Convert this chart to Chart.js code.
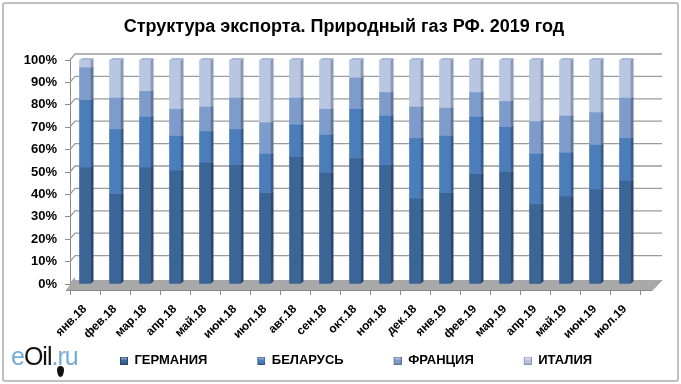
<!DOCTYPE html>
<html>
<head>
<meta charset="utf-8">
<script src="https://cdn.jsdelivr.net/npm/chart.js@4/dist/chart.umd.min.js"></script>
<style>
  html, body { margin: 0; padding: 0; background: #fff; }
  #wrap { position: relative; width: 681px; height: 384px; overflow: hidden; }
  #frame { position: absolute; left: 2px; top: 2px; width: 673px; height: 376px; border: 2px solid #c0c0c0; border-radius: 3px; pointer-events: none; }
  canvas { position: absolute; left: 0; top: 0; }
  #logo { position: absolute; left: 11px; top: 342px; font-family: 'Liberation Sans', sans-serif; font-size: 25px; letter-spacing: -1px; line-height: 28px; }
  #logo .b { color: #74acd9; }
  #logo .k { color: #111; }
  #drop { position: absolute; left: 57px; top: 366px; width: 7px; height: 11px; background: #111; border-radius: 50% 50% 50% 50% / 35% 35% 65% 65%; }
</style>
</head>
<body>
<div id="wrap">
  <canvas id="c" width="681" height="384"></canvas>
  <div id="frame"></div>
  <div id="logo"><span class="b">e</span><span class="k">Oil</span><span class="b">.ru</span></div>
  <div id="drop"></div>
</div>
<script>
const categories = ['янв.18','фев.18','мар.18','апр.18','май.18','июн.18','июл.18','авг.18','сен.18','окт.18','ноя.18','дек.18','янв.19','фев.19','мар.19','апр.19','май.19','июн.19','июл.19'];
const germany = [52, 40, 52, 50.5, 54, 53, 40.5, 56.5, 49.5, 56, 53, 38, 40.5, 49, 50, 35.5, 39, 42, 46];
const belarus = [30, 29, 22.5, 15.5, 14, 16, 17.5, 14.5, 17, 22, 22, 27, 25.5, 25.5, 20, 22.5, 19.5, 20, 19];
const france  = [14.5, 14, 11.5, 12, 11, 14, 14, 12, 11.5, 14, 10.5, 14, 12.5, 11, 11.5, 14.5, 16.5, 14.5, 18];
const italy   = [3.5, 17, 14, 22, 21, 17, 28, 17, 22, 8, 14.5, 21, 21.5, 14.5, 18.5, 27.5, 25, 23.5, 17];
const seriesNames = ['ГЕРМАНИЯ', 'БЕЛАРУСЬ', 'ФРАНЦИЯ', 'ИТАЛИЯ'];
const titleText = 'Структура экспорта. Природный газ РФ. 2019 год';

const FONT = "'Liberation Sans', Arial, sans-serif";
const fronts = ['#3c6597', '#4a7dba', '#7e9ccb', '#b8c6e2'];
const sides  = ['#284870', '#345b8a', '#5d769c', '#8b9ab4'];
const D = 3, DY = 2;

// legend markers: small bevelled square at the right end of a wide transparent strip
const MARK_W = 48;
const markers = fronts.map((c, i) => {
  const cv = document.createElement('canvas');
  cv.width = MARK_W; cv.height = 8;
  const g = cv.getContext('2d');
  const x0 = MARK_W - 8;
  g.fillStyle = sides[i];
  g.fillRect(x0, 0, 8, 8);
  g.fillStyle = c;
  g.fillRect(x0 + 1, 1, 6, 6);
  g.fillStyle = 'rgba(255,255,255,0.35)';
  g.fillRect(x0 + 1, 1, 6, 2);
  return cv;
});

const wallPlugin = {
  id: 'wall',
  beforeDatasetsDraw(chart) {
    const {ctx, chartArea: a, scales: {y}} = chart;
    ctx.save();
    // floor
    ctx.fillStyle = '#a9a9a9';
    ctx.beginPath();
    ctx.moveTo(a.left - 4, a.bottom + 6);
    ctx.lineTo(a.right + 12, a.bottom + 6);
    ctx.lineTo(a.right + 22, a.bottom - 4);
    ctx.lineTo(a.left + 4, a.bottom - 4);
    ctx.closePath();
    ctx.fill();
    ctx.strokeStyle = '#8a8a8a';
    ctx.lineWidth = 1;
    ctx.beginPath();
    ctx.moveTo(a.left - 4, a.bottom + 6.5);
    ctx.lineTo(a.right + 12, a.bottom + 6.5);
    ctx.lineTo(a.right + 22, a.bottom - 4);
    ctx.stroke();
    // back wall gridlines
    ctx.strokeStyle = '#9c9c9c';
    ctx.lineWidth = 1.3;
    y.ticks.forEach(t => {
      const py = y.getPixelForValue(t.value);
      ctx.beginPath();
      ctx.moveTo(a.left, py);
      ctx.lineTo(a.left + 5, py - 6);
      if (t.value > 0) ctx.lineTo(a.right + 22, py - 6);
      ctx.stroke();
    });
    ctx.restore();
  },
  afterDatasetsDraw(chart) {
    const {ctx} = chart;
    ctx.save();
    chart.data.datasets.forEach((ds, di) => {
      const meta = chart.getDatasetMeta(di);
      meta.data.forEach(el => {
        const r = el.x + el.width / 2;
        ctx.fillStyle = sides[di];
        ctx.beginPath();
        ctx.moveTo(r, el.y);
        ctx.lineTo(r + D, el.y - DY);
        ctx.lineTo(r + D, el.base - DY);
        ctx.lineTo(r, el.base);
        ctx.closePath();
        ctx.fill();
        if (di === chart.data.datasets.length - 1) {
          const l = el.x - el.width / 2;
          ctx.fillStyle = '#a9b8d6';
          ctx.beginPath();
          ctx.moveTo(l, el.y);
          ctx.lineTo(r, el.y);
          ctx.lineTo(r + D, el.y - DY);
          ctx.lineTo(l + D, el.y - DY);
          ctx.closePath();
          ctx.fill();
        }
      });
    });
    ctx.restore();
  }
};

const seriesData = [germany, belarus, france, italy];
new Chart(document.getElementById('c'), {
  type: 'bar',
  data: {
    labels: categories,
    datasets: seriesData.map((d, i) => ({
      label: seriesNames[i],
      data: d,
      backgroundColor: fronts[i],
      borderWidth: 0,
      barThickness: 11
    }))
  },
  plugins: [wallPlugin],
  options: {
    responsive: false,
    devicePixelRatio: 1,
    animation: false,
    layout: { padding: { left: 24, right: 17, top: 0, bottom: 7 } },
    plugins: {
      title: {
        display: true,
        text: titleText,
        color: '#000',
        font: { family: FONT, size: 18, weight: 'bold', lineHeight: 1.2 },
        padding: { top: 16.5, bottom: 21.9 }
      },
      legend: {
        position: 'bottom',
        align: 'start',
        fullSize: false,
        labels: {
          color: '#000',
          font: { family: FONT, size: 13, weight: 'bold' },
          usePointStyle: true,
          pointStyleWidth: MARK_W,
          boxHeight: 8,
          padding: 10,
          generateLabels(chart) {
            const items = Chart.defaults.plugins.legend.labels.generateLabels(chart);
            items.forEach((it, i) => { it.pointStyle = markers[i]; });
            return items;
          }
        }
      },
      tooltip: { enabled: false }
    },
    scales: {
      x: {
        stacked: true,
        afterFit(s) { s.height = 60; },
        grid: { offset: true, drawOnChartArea: false, drawTicks: true, tickLength: 11, color: '#8a8a8a' },
        border: { display: false },
        ticks: {
          autoSkip: false, maxRotation: 45, minRotation: 45, padding: 7,
          color: '#000', font: { family: FONT, size: 12, weight: 'bold' }
        }
      },
      y: {
        stacked: true,
        min: 0, max: 100,
        afterFit(s) { s.width = 46; },
        grid: { drawOnChartArea: false, drawTicks: true, tickLength: 5, color: '#8a8a8a' },
        border: { display: true, color: '#8a8a8a', width: 1 },
        ticks: {
          stepSize: 10, padding: 8,
          color: '#000', font: { family: FONT, size: 13, weight: 'bold' },
          callback: v => v + '%'
        }
      },
      yRight: {
        position: 'right',
        afterFit(s) { s.width = 24; },
        grid: { display: false },
        border: { display: false },
        ticks: { display: false }
      }
    }
  }
});
</script>
</body>
</html>
